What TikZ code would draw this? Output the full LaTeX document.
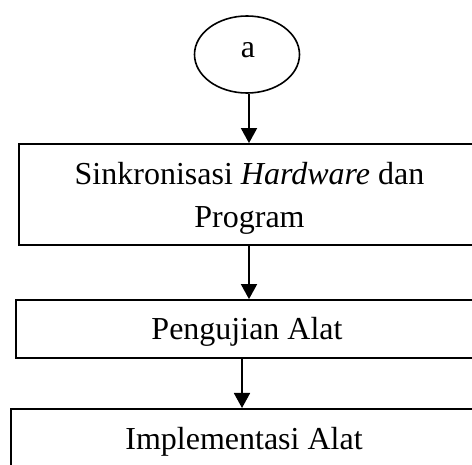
\documentclass[tikz,border=0pt]{standalone}
\usepackage{fontspec}
\setmainfont{Liberation Serif}
\usetikzlibrary{arrows.meta,shapes.geometric}
\begin{document}
\begin{tikzpicture}[x=1pt,y=-1pt,
  every node/.style={font=\fontsize{32}{43.5}\selectfont},
  txt/.style={anchor=base,inner sep=0pt},
  proc/.style={draw,line width=1.8pt,rectangle,inner sep=0pt},
  term/.style={draw,line width=1.6pt,ellipse,inner sep=0pt},
  arr/.style={line width=1.8pt,-{Triangle[length=15pt,width=16pt]}}]
\useasboundingbox (0,0) rectangle (472,465);
\clip (0,0) rectangle (472,465);
% start connector
\node[term,minimum width=105pt,minimum height=77pt] (a) at (247,54.5) {};
\node[txt] (ta) at (248,58) {a};
% process boxes (they run past the right and bottom edges)
\node[proc,minimum width=462pt,minimum height=101pt] (b1) at (250,194.5) {};
\node[txt] (t1a) at (249.5,184.3) {Sinkronisasi \textit{Hardware} dan};
\node[txt] (t1b) at (249.5,227.7) {Program};
\node[proc,minimum width=462pt,minimum height=58pt] (b2) at (247,329) {};
\node[txt] (t2) at (247,340) {Pengujian Alat};
\node[proc,minimum width=466pt,minimum height=100pt,anchor=north] (b3) at (244,408) {};
\node[txt] (t3) at (244,449.3) {Implementasi Alat};
% flow arrows
\draw[arr] ([xshift=2pt]a.south) -- ([xshift=2pt]a.south |- b1.north);
\draw[arr] ([xshift=-1pt]b1.south) -- ([xshift=-1pt]b1.south |- b2.north);
\draw[arr] ([xshift=-5pt]b2.south) -- ([xshift=-5pt]b2.south |- b3.north);
\end{tikzpicture}
\end{document}
